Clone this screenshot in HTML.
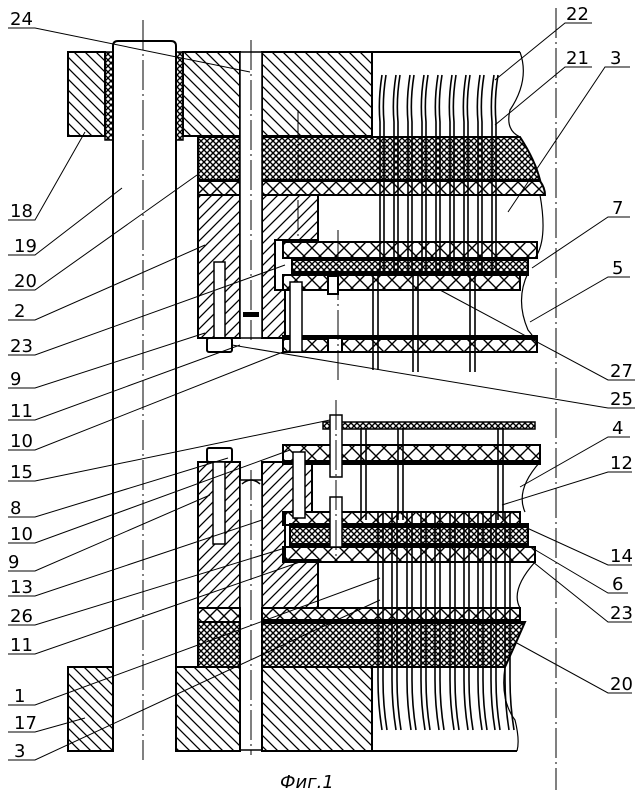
<!DOCTYPE html>
<html><head><meta charset="utf-8"><style>
html,body{margin:0;padding:0;background:#fff;}
svg{display:block;}
text{font-family:"DejaVu Sans","Liberation Sans",sans-serif;font-size:18px;fill:#000;}
</style></head><body>
<svg width="642" height="797" viewBox="0 0 642 797" xmlns="http://www.w3.org/2000/svg">
<defs>
<pattern id="hb" patternUnits="userSpaceOnUse" width="11" height="11"><path d="M-1,-1 L12,12 M-12,-1 L1,12 M10,-1 L23,12" stroke="#000" stroke-width="1.3"/></pattern>
<pattern id="hf" patternUnits="userSpaceOnUse" width="11" height="11"><path d="M-1,12 L12,-1 M-12,12 L1,-1 M10,12 L23,-1" stroke="#000" stroke-width="1.3"/></pattern>
<pattern id="dn" patternUnits="userSpaceOnUse" width="6" height="6"><path d="M0,0 L6,6 M0,6 L6,0" stroke="#000" stroke-width="1.4"/></pattern>
<pattern id="xa" patternUnits="userSpaceOnUse" width="14" height="14" y="0"><path d="M0,0 L14,14 M0,14 L14,0" stroke="#000" stroke-width="1.4"/></pattern>
<pattern id="xb" patternUnits="userSpaceOnUse" width="16" height="16"><path d="M0,0 L16,16 M0,16 L16,0" stroke="#000" stroke-width="1.4"/></pattern>
</defs>
<g stroke="#000" fill="none" stroke-width="2">
<path d="M113,750 L113,46 Q113,41 118,41 L171,41 Q176,41 176,46 L176,750" fill="#fff"/>
<rect x="68" y="52" width="37" height="84" fill="url(#hb)"/>
<rect x="105" y="52" width="8" height="88" fill="url(#dn)" stroke-width="1.5"/>
<rect x="176" y="52" width="7" height="88" fill="url(#dn)" stroke-width="1.5"/>
<rect x="183" y="52" width="57" height="84" fill="url(#hb)"/>
<rect x="262" y="52" width="110" height="84" fill="url(#hb)"/>
<path d="M372,52 L520,52"/>
<path d="M198,137 L240,137 L240,180 L198,180 Z" fill="url(#dn)"/>
<path d="M262,137 L520,137 Q535,160 540,180 L262,180 Z" fill="url(#dn)"/>
<rect x="198" y="181" width="42" height="14" fill="url(#xa)"/>
<path d="M262,181 L540,181 Q545,188 545,195 L262,195 Z" fill="url(#xa)"/>
<rect x="198" y="195" width="42" height="143" fill="url(#hf)"/>
<path d="M262,195 L318,195 L318,240 L275,240 L275,290 L285,290 L285,338 L262,338 Z" fill="url(#hf)"/>
<rect x="240" y="52" width="22" height="286" fill="#fff" stroke-width="1.5"/>
<rect x="243" y="312" width="16" height="5" fill="#000" stroke="none"/>
<rect x="283" y="242" width="254" height="16" fill="url(#xb)"/>
<rect x="292" y="259" width="236" height="14" fill="url(#dn)"/>
<rect x="292" y="258" width="236" height="2" fill="#000"/>
<rect x="292" y="272" width="236" height="3" fill="#000"/>
<rect x="283" y="275" width="237" height="15" fill="url(#xb)"/>
<rect x="283" y="338" width="254" height="14" fill="url(#xb)"/>
<rect x="283" y="336" width="254" height="3" fill="#000"/>
<rect x="328" y="276" width="10" height="18" fill="#fff"/>
<rect x="328" y="338" width="14" height="14" fill="#fff"/>
<rect x="214" y="262" width="11" height="76" fill="#fff" stroke-width="1.5"/>
<rect x="207" y="338" width="25" height="14" rx="2" fill="#fff"/>
<rect x="290" y="282" width="12" height="70" fill="#fff" stroke-width="1.5"/>
<rect x="323" y="422" width="212" height="7" fill="url(#dn)" stroke-width="1.5"/>
<rect x="283" y="445" width="257" height="17" fill="url(#xb)"/>
<rect x="283" y="461" width="257" height="3" fill="#000"/>
<rect x="198" y="462" width="42" height="146" fill="url(#hf)"/>
<path d="M262,462 L312,462 L312,512 L285,512 L285,560 L318,560 L318,608 L262,608 Z" fill="url(#hf)"/>
<rect x="240" y="480" width="22" height="270" fill="#fff" stroke-width="1.5"/>
<path d="M242,484 Q251,476 260,484" stroke-width="1.5"/>
<rect x="283" y="512" width="237" height="13" fill="url(#xb)"/>
<rect x="290" y="526" width="238" height="19" fill="url(#dn)"/>
<rect x="290" y="524" width="238" height="3" fill="#000"/>
<rect x="290" y="544" width="238" height="3" fill="#000"/>
<rect x="283" y="547" width="252" height="15" fill="url(#xb)"/>
<rect x="198" y="608" width="42" height="14" fill="url(#xa)"/>
<rect x="262" y="608" width="258" height="14" fill="url(#xa)"/>
<rect x="198" y="622" width="42" height="45" fill="url(#dn)"/>
<path d="M262,622 L525,622 Q515,645 505,667 L262,667 Z" fill="url(#dn)"/>
<rect x="262" y="620" width="258" height="3" fill="#000"/>
<rect x="207" y="448" width="25" height="14" rx="2" fill="#fff"/>
<rect x="213" y="462" width="12" height="82" fill="#fff" stroke-width="1.5"/>
<rect x="330" y="415" width="12" height="62" fill="#fff" stroke-width="1.5"/>
<rect x="330" y="497" width="12" height="50" fill="#fff" stroke-width="1.5"/>
<rect x="293" y="452" width="12" height="66" fill="#fff" stroke-width="1.5"/>
<rect x="68" y="667" width="45" height="84" fill="url(#hb)"/>
<rect x="176" y="667" width="64" height="84" fill="url(#hb)"/>
<rect x="262" y="667" width="110" height="84" fill="url(#hb)"/>
<path d="M372,751 L517,751"/>
<path d="M520,52 Q530,80 510,110 Q505,130 520,137 M540,195 Q548,240 535,258 M528,273 Q515,300 528,330 Q535,338 537,345" stroke-width="1.2"/>
<path d="M540,462 Q515,490 525,512 M535,562 Q510,590 520,608 M505,667 Q500,700 515,720 Q520,740 517,751" stroke-width="1.2"/>
</g>
<g stroke="#000" stroke-width="1.6" fill="none">
<path d="M382,75 Q378,100 380,122 L380,272 M386,75 Q382,100 384,122 L384,272"/>
<path d="M396,75 Q392,100 394,122 L394,272 M400,75 Q396,100 398,122 L398,272"/>
<path d="M410,75 Q406,100 408,122 L408,272 M414,75 Q410,100 412,122 L412,272"/>
<path d="M424,75 Q420,100 422,122 L422,272 M428,75 Q424,100 426,122 L426,272"/>
<path d="M438,75 Q434,100 436,122 L436,272 M442,75 Q438,100 440,122 L440,272"/>
<path d="M452,75 Q448,100 450,122 L450,272 M456,75 Q452,100 454,122 L454,272"/>
<path d="M466,75 Q462,100 464,122 L464,272 M470,75 Q466,100 468,122 L468,272"/>
<path d="M480,75 Q476,100 478,122 L478,272 M484,75 Q480,100 482,122 L482,272"/>
<path d="M494,75 Q490,100 492,122 L492,272 M498,75 Q494,100 496,122 L496,272"/>
<path d="M373,276 L373,370 M378,276 L378,370 M413,276 L413,372 M418,276 L418,372 M470,276 L470,372 M475,276 L475,372"/>
<path d="M361,428 L361,520 M366,428 L366,520 M398,428 L398,520 M403,428 L403,520 M498,428 L498,520 M503,428 L503,520"/>
</g>
<g stroke="#000" stroke-width="1.6" fill="none">
<path d="M378,512 L378,680 Q378,705 382,730 M383,512 L383,680 Q383,705 387,730"/>
<path d="M392,512 L392,680 Q392,705 396,730 M397,512 L397,680 Q397,705 401,730"/>
<path d="M407,512 L407,680 Q407,705 411,730 M412,512 L412,680 Q412,705 416,730"/>
<path d="M421,512 L421,680 Q421,705 425,730 M426,512 L426,680 Q426,705 430,730"/>
<path d="M435,512 L435,680 Q435,705 439,730 M440,512 L440,680 Q440,705 444,730"/>
<path d="M450,512 L450,680 Q450,705 454,730 M455,512 L455,680 Q455,705 459,730"/>
<path d="M464,512 L464,680 Q464,705 468,730 M469,512 L469,680 Q469,705 473,730"/>
<path d="M478,512 L478,680 Q478,705 482,730 M483,512 L483,680 Q483,705 487,730"/>
<path d="M491,512 L491,680 Q491,705 495,730 M496,512 L496,680 Q496,705 500,730"/>
<path d="M505,512 L505,680 Q505,705 509,730 M510,512 L510,680 Q510,705 514,730"/>
</g>
<g stroke="#000" stroke-width="1" stroke-dasharray="30,4,2,4" fill="none">
<path d="M143,20 L143,760"/>
<path d="M556,8 L556,790"/>
<path d="M251,40 L251,340 M251,470 L251,755 M298,110 L298,180 M298,200 L298,240 M338,230 L338,380 M336,400 L336,560"/>
</g>
<g stroke="#000" stroke-width="1" fill="none">
<path d="M8,28 L35,28 L250,72"/>
<path d="M8,220 L35,220 L85,132"/>
<path d="M8,255 L35,255 L122,188"/>
<path d="M8,290 L35,290 L197,175"/>
<path d="M8,320 L35,320 L205,245"/>
<path d="M8,355 L35,355 L285,265"/>
<path d="M8,388 L35,388 L205,333"/>
<path d="M8,420 L35,420 L240,345"/>
<path d="M8,450 L35,450 L283,352"/>
<path d="M8,481 L35,481 L330,420"/>
<path d="M8,517 L35,517 L228,458"/>
<path d="M8,543 L35,543 L290,450"/>
<path d="M8,571 L35,571 L210,495"/>
<path d="M8,596 L35,596 L262,520"/>
<path d="M8,625 L35,625 L285,548"/>
<path d="M8,654 L35,654 L300,562"/>
<path d="M8,705 L35,705 L380,578"/>
<path d="M8,732 L35,732 L85,718"/>
<path d="M8,760 L35,760 L380,600"/>
<path d="M592,23 L565,23 L495,80"/>
<path d="M592,67 L565,67 L495,125"/>
<path d="M630,67 L605,67 L508,212"/>
<path d="M630,217 L608,217 L532,268"/>
<path d="M630,277 L608,277 L530,322"/>
<path d="M635,380 L608,380 L440,290"/>
<path d="M635,408 L608,408 L232,345"/>
<path d="M630,437 L608,437 L520,487"/>
<path d="M632,472 L608,472 L502,505"/>
<path d="M632,565 L608,565 L527,528"/>
<path d="M628,593 L608,593 L527,545"/>
<path d="M632,622 L608,622 L533,562"/>
<path d="M632,693 L608,693 L515,642"/>
</g>
<text x="10" y="25">24</text>
<text x="10" y="217">18</text>
<text x="14" y="252">19</text>
<text x="14" y="287">20</text>
<text x="14" y="317">2</text>
<text x="10" y="352">23</text>
<text x="10" y="385">9</text>
<text x="10" y="417">11</text>
<text x="10" y="447">10</text>
<text x="10" y="478">15</text>
<text x="10" y="514">8</text>
<text x="10" y="540">10</text>
<text x="8" y="568">9</text>
<text x="10" y="593">13</text>
<text x="10" y="622">26</text>
<text x="10" y="651">11</text>
<text x="14" y="702">1</text>
<text x="14" y="729">17</text>
<text x="14" y="757">3</text>
<text x="566" y="20">22</text>
<text x="566" y="64">21</text>
<text x="610" y="64">3</text>
<text x="612" y="214">7</text>
<text x="612" y="274">5</text>
<text x="610" y="377">27</text>
<text x="610" y="405">25</text>
<text x="612" y="434">4</text>
<text x="610" y="469">12</text>
<text x="610" y="562">14</text>
<text x="612" y="590">6</text>
<text x="610" y="619">23</text>
<text x="610" y="690">20</text>
<text x="280" y="788" font-style="italic">Фиг.1</text>
</svg>
</body></html>
